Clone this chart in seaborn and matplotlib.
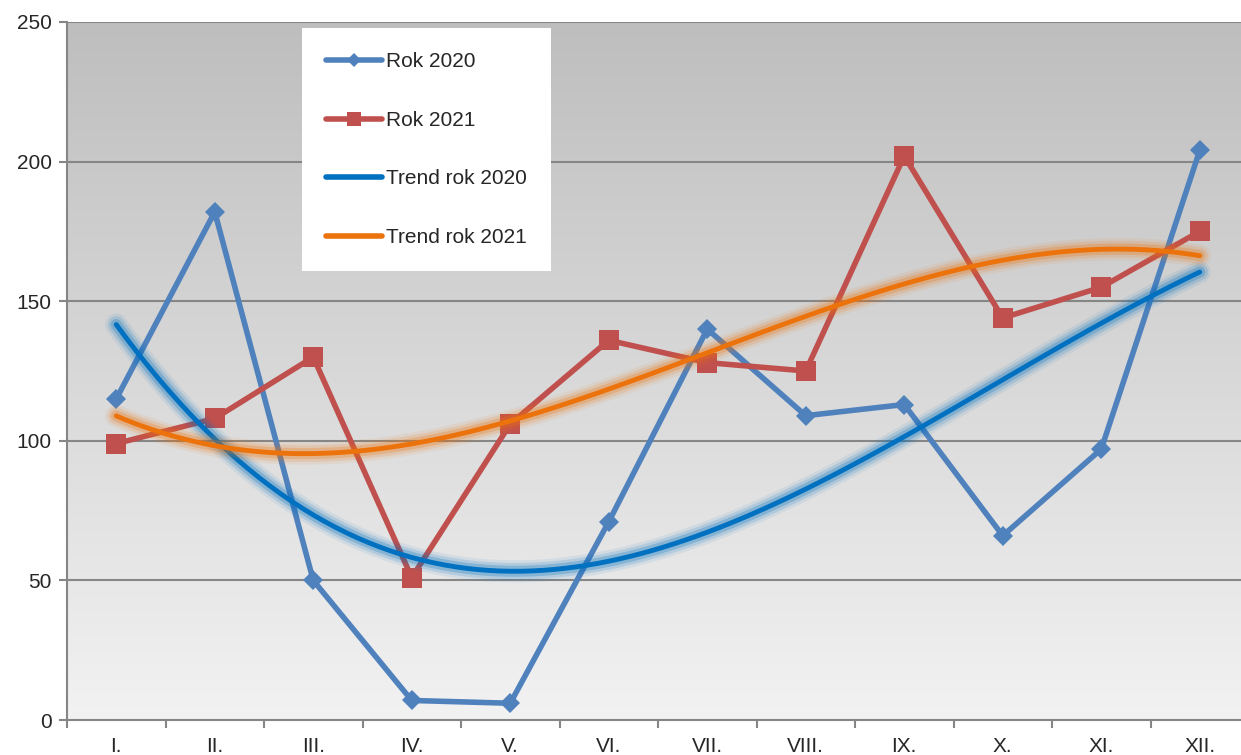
import matplotlib
matplotlib.use("Agg")
import matplotlib.pyplot as plt
import matplotlib.patheffects as pe
from matplotlib.lines import Line2D
from matplotlib.ticker import FixedLocator
import seaborn as sns
import pandas as pd
import numpy as np


months = ["I.", "II.", "III.", "IV.", "V.", "VI.", "VII.", "VIII.", "IX.", "X.", "XI.", "XII."]
rok_2020 = [115, 182, 50, 7, 6, 71, 140, 109, 113, 66, 97, 204]
rok_2021 = [99, 108, 130, 51, 106, 136, 128, 125, 202, 144, 155, 175]
y_ticks = [0, 50, 100, 150, 200, 250]

c2020 = "#4F81BD"
c2021 = "#C0504D"
ct2020 = "#0070C0"
ct2021 = "#EC730C"

sns.set_style("white")
plt.rcParams["font.family"] = ["Liberation Sans", "DejaVu Sans"]

pos = np.arange(1, len(months) + 1)
df = pd.DataFrame({"pos": pos, "Rok 2020": rok_2020, "Rok 2021": rok_2021})

fig = plt.figure(figsize=(12.41, 7.55), dpi=100)
# plot area runs a little past the right edge, as in the reference
ax = fig.add_axes([67 / 1241, 35 / 755, 1182 / 1241, 698 / 755])

# gradient background like the Excel plot area
grad = np.linspace(0, 1, 256).reshape(-1, 1)
cmap = matplotlib.colors.LinearSegmentedColormap.from_list("g", ["#BEBEBE", "#F2F2F2"])
ax.imshow(grad, cmap=cmap, extent=[0, 1, 0, 1], transform=ax.transAxes, aspect="auto", zorder=0)

for y in y_ticks[1:]:
    ax.axhline(y, color="#868686", lw=1.5, zorder=1)

sns.lineplot(data=df, x="pos", y="Rok 2020", ax=ax, color=c2020, lw=4,
             marker="D", markersize=10, markeredgewidth=0, zorder=3)
sns.lineplot(data=df, x="pos", y="Rok 2021", ax=ax, color=c2021, lw=4,
             marker="s", markersize=14, markeredgewidth=0, zorder=3)


def glow(color):
    return [pe.Stroke(linewidth=16, foreground=color, alpha=0.08),
            pe.Stroke(linewidth=12, foreground=color, alpha=0.15),
            pe.Stroke(linewidth=8, foreground=color, alpha=0.25),
            pe.Normal()]


sns.regplot(data=df, x="pos", y="Rok 2020", order=3, ci=None, scatter=False, ax=ax,
            line_kws={"color": ct2020, "lw": 3.5, "zorder": 4, "path_effects": glow(ct2020),
                      "solid_capstyle": "round"})
sns.regplot(data=df, x="pos", y="Rok 2021", order=3, ci=None, scatter=False, ax=ax,
            line_kws={"color": ct2021, "lw": 3.5, "zorder": 4, "path_effects": glow(ct2021),
                      "solid_capstyle": "round"})

ax.set_xlim(0.5, len(months) + 0.5)
ax.set_ylim(0, 250)
ax.set_xlabel("")
ax.set_ylabel("")
ax.set_xticks(pos)
ax.set_xticklabels(months, fontsize=15)
ax.xaxis.set_minor_locator(FixedLocator(np.arange(0.5, len(months) + 1, 1)))
ax.tick_params(axis="x", which="major", length=0, pad=12)
ax.tick_params(axis="x", which="minor", length=6, width=1.5, color="#868686", direction="out", bottom=True)
ax.set_yticks(y_ticks)
ax.set_yticklabels([str(v) for v in y_ticks], fontsize=15)
ax.tick_params(axis="y", length=6, width=1.5, color="#868686", direction="out", left=True, pad=5)

for s in ["top", "right"]:
    ax.spines[s].set_visible(False)
for s in ["left", "bottom"]:
    ax.spines[s].set_color("#868686")
    ax.spines[s].set_linewidth(1.5)
    ax.spines[s].set_zorder(5)

handles = [
    Line2D([], [], color=c2020, lw=4, marker="D", markersize=7, markeredgewidth=0, solid_capstyle="round"),
    Line2D([], [], color=c2021, lw=4, marker="s", markersize=10, markeredgewidth=0, solid_capstyle="round"),
    Line2D([], [], color=ct2020, lw=4, solid_capstyle="round"),
    Line2D([], [], color=ct2021, lw=4, solid_capstyle="round"),
]
leg = ax.legend(handles, ["Rok 2020", "Rok 2021", "Trend rok 2020", "Trend rok 2021"],
                loc="upper left", bbox_to_anchor=((302 - 67) / 1182, 0.991), fontsize=15,
                frameon=True, fancybox=False, framealpha=1, edgecolor="white",
                handlelength=2.7, handletextpad=0.2, labelspacing=1.9,
                borderpad=1.15, borderaxespad=0)
leg.get_frame().set_linewidth(0)
leg.set_zorder(6)

fig.savefig("out.png", dpi=100)
